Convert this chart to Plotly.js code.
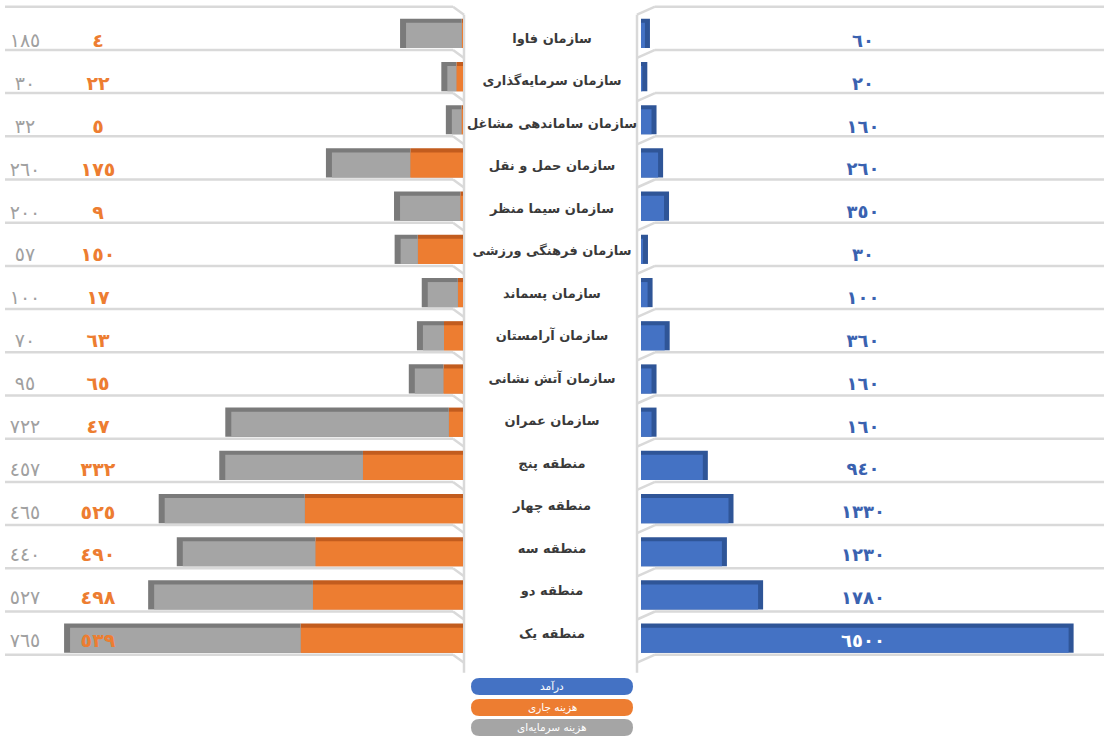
<!DOCTYPE html>
<html>
<head>
<meta charset="utf-8">
<script src="https://cdn.plot.ly/plotly-3.0.1.min.js"></script>
<style>html,body{margin:0;padding:0;background:#fff;}#chart{width:1104px;height:738px;}</style>
</head>
<body>
<div id="chart"></div>
<script>
// ---- data (top row first) ----
const categories = [
  "سازمان فاوا",
  "سازمان سرمایه‌گذاری",
  "سازمان ساماندهی مشاغل",
  "سازمان حمل و نقل",
  "سازمان سیما منظر",
  "سازمان فرهنگی ورزشی",
  "سازمان پسماند",
  "سازمان آرامستان",
  "سازمان آتش نشانی",
  "سازمان عمران",
  "منطقه پنج",
  "منطقه چهار",
  "منطقه سه",
  "منطقه دو",
  "منطقه یک"
];
const capitalCost = [185, 30, 32, 260, 200, 57, 100, 70, 95, 722, 457, 465, 440, 527, 765];
const currentCost = [4, 22, 5, 175, 9, 150, 17, 63, 65, 47, 332, 525, 490, 498, 539];
const income      = [60, 20, 160, 260, 350, 30, 100, 360, 160, 160, 940, 1330, 1230, 1780, 6500];
const seriesNames = ["درآمد", "هزینه جاری", "هزینه سرمایه‌ای"];

// ---- geometry / style ----
const W = 1104, H = 738;
const row0 = 35.4, rowH = 43.2;
const leftPx = [5, 463], rightPx = [641, 1104];
const leftRange = 1520, rightRange = 7038;
const dL = 6 * leftRange / (leftPx[1] - leftPx[0]);
const dR = 5 * rightRange / (rightPx[1] - rightPx[0]);
const FW = 0.58, FO = -0.29, SW = 0.675, SO = -0.385;
const FONT = "DejaVu Sans";
const C = {blue:"#4472C4", blueTop:"#2F5597", orange:"#ED7D31", orangeTop:"#C25C1E",
           gray:"#A5A5A5", grayTop:"#7A7A7A", grid:"#D9D9D9"};

const ar = n => String(n).replace(/\d/g, d => "٠١٢٣٤٥٦٧٨٩"[d]);
const px = x => x / W, py = y => 1 - y / H;
const n = categories.length;
const yTop = row0 - rowH / 2, yBot = row0 + rowH * (n - 0.5);
const idx = categories.map((_, i) => i);

const bar = (o) => Object.assign({type:"bar", orientation:"h", y:categories, hoverinfo:"skip",
  showlegend:false}, o);
const txt = (o) => Object.assign({type:"scatter", mode:"text", xaxis:"x3", y:idx,
  cliponaxis:false, hoverinfo:"skip", showlegend:false}, o);

const traces = [
  bar({x:currentCost, base:0, xaxis:"x", yaxis:"y", width:SW, offset:SO, marker:{color:C.orangeTop}}),
  bar({x:capitalCost.map(v => v + dL), base:currentCost, xaxis:"x", yaxis:"y", width:SW, offset:SO, marker:{color:C.grayTop}}),
  bar({x:currentCost, base:0, xaxis:"x", yaxis:"y", width:FW, offset:FO, marker:{color:C.orange}}),
  bar({x:capitalCost, base:currentCost, xaxis:"x", yaxis:"y", width:FW, offset:FO, marker:{color:C.gray}}),
  bar({x:income.map(v => v + dR), base:0, xaxis:"x2", yaxis:"y", width:SW, offset:SO, marker:{color:C.blueTop}}),
  bar({x:income, base:0, xaxis:"x2", yaxis:"y", width:FW, offset:FO, marker:{color:C.blue}}),
  txt({yaxis:"y2", x:idx.map(() => 25), text:capitalCost.map(ar), textfont:{family:FONT, size:19, color:"#A0A0A0"}}),
  txt({yaxis:"y2", x:idx.map(() => 98), text:currentCost.map(ar), textfont:{family:FONT, size:19, weight:"bold", color:C.orange}}),
  txt({yaxis:"y3", x:idx.map(() => 552), text:categories, textfont:{family:FONT, size:13, weight:"bold", color:"#3A3A3A"}}),
  txt({yaxis:"y2", x:idx.map(() => 863), text:income.map(ar), textfont:{family:FONT, size:18, weight:"bold",
   color:income.map((v, i) => i === n - 1 ? "#FFFFFF" : "#3A62B0")}})
];

// ---- decorations: 3D floor lines ----
const shapes = [];
const line = (x0, y0, x1, y1) => shapes.push({type:"line", xref:"paper", yref:"paper", layer:"below",
  x0:px(x0), y0:py(y0), x1:px(x1), y1:py(y1), line:{color:C.grid, width:2.5}});
for (let k = -1; k < n; k++) {
  const y = row0 + rowH * k + 14.5;
  line(leftPx[0], y, 453, y); line(453, y, 464, y + 8);
  line(637, y + 8, 655, y); line(655, y, W, y);
}
const wTop = row0 - rowH + 14.5 + 8, wBot = row0 + rowH * (n - 1) + 14.5 + 18;
line(464, wTop, 464, wBot); line(637, wTop, 637, wBot);

// ---- legend pills ----
const annotations = [];
const pills = [[678, C.blue, seriesNames[0]], [699, C.orange, seriesNames[1]], [719, C.gray, seriesNames[2]]];
pills.forEach(([y0, col, label]) => {
  const x0 = 471, x1 = 633, y1 = y0 + 17, r = 8.5;
  const P = (x, y) => px(x) + "," + py(y);
  shapes.push({type:"path", xref:"paper", yref:"paper", fillcolor:col, line:{width:0},
    path:"M" + P(x0 + r, y0) + " L" + P(x1 - r, y0) + " Q" + P(x1, y0) + " " + P(x1, y0 + r) +
         " Q" + P(x1, y1) + " " + P(x1 - r, y1) + " L" + P(x0 + r, y1) + " Q" + P(x0, y1) + " " + P(x0, y1 - r) +
         " Q" + P(x0, y0) + " " + P(x0 + r, y0) + " Z"});
  annotations.push({xref:"paper", yref:"paper", x:px(552), y:py(y0 + 8.5), text:label, showarrow:false,
    xanchor:"center", yanchor:"middle", font:{family:FONT, size:10.5, color:"#FFFFFF"}});
});

// text rows: values sit slightly lower, names on a slightly tighter pitch
const valTop = 42.4, valPitch = 42.86, nameTop = 39.4, namePitch = 42.5;
const hidden = {showgrid:false, zeroline:false, showticklabels:false, showline:false, ticks:"", fixedrange:true};
const layout = {
  width:W, height:H, margin:{l:0, r:0, t:0, b:0, pad:0},
  paper_bgcolor:"#FFFFFF", plot_bgcolor:"rgba(0,0,0,0)",
  barmode:"overlay", showlegend:false,
  xaxis:Object.assign({domain:[px(leftPx[0]), px(leftPx[1])], range:[leftRange, 0], anchor:"y"}, hidden),
  xaxis2:Object.assign({domain:[px(rightPx[0]), px(rightPx[1])], range:[0, rightRange], anchor:"y"}, hidden),
  xaxis3:Object.assign({domain:[0, 1], range:[0, W], anchor:"y2"}, hidden),
  yaxis:Object.assign({domain:[py(yBot), py(yTop)], type:"category", categoryorder:"array",
    categoryarray:categories, range:[n - 0.5, -0.5], anchor:"x"}, hidden),
  yaxis2:Object.assign({domain:[py(valTop + valPitch * (n - 0.5)), py(valTop - valPitch / 2)],
    range:[n - 0.5, -0.5], anchor:"x3"}, hidden),
  yaxis3:Object.assign({domain:[py(nameTop + namePitch * (n - 0.5)), py(nameTop - namePitch / 2)],
    range:[n - 0.5, -0.5], anchor:"x3"}, hidden),
  shapes:shapes, annotations:annotations
};
Plotly.newPlot("chart", traces, layout, {staticPlot:true, displayModeBar:false});
</script>
</body>
</html>
